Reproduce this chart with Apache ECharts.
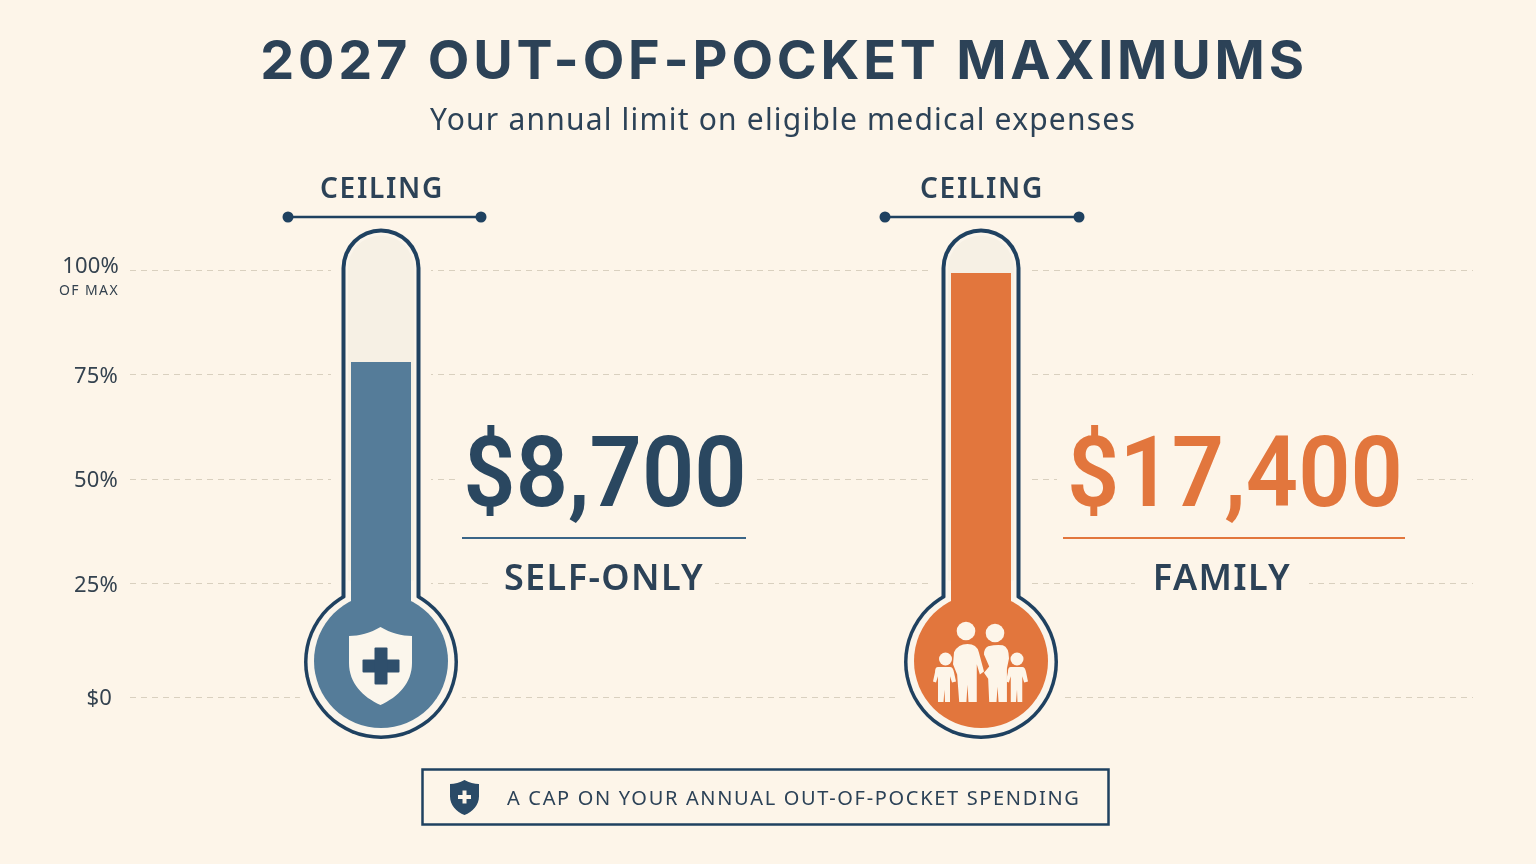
<!DOCTYPE html>
<html>
<head>
<meta charset="utf-8">
<style>html,body{margin:0;padding:0;background:#FDF5E9}#c{width:1536px;height:864px}</style>
<script src="https://cdn.jsdelivr.net/npm/echarts@6/dist/echarts.min.js"></script>
</head>
<body>
<div id="c"></div>
<script>
// ---- data ----
const titleText = '2027 OUT-OF-POCKET MAXIMUMS';
const subtitleText = 'Your annual limit on eligible medical expenses';
const footerText = 'A CAP ON YOUR ANNUAL OUT-OF-POCKET SPENDING';
const ceilingText = 'CEILING';
const maxNote = 'OF MAX';
const planNames = ['SELF-ONLY', 'FAMILY'];
const planAmounts = ['$8,700', '$17,400'];
const fillLevels = [78, 99.3];
const tickValues = [-2.15, 25, 50, 75, 100];
const tickLabels = ['$0', '25%', '50%', '75%', '100%'];

// ---- palette ----
const BG = '#FDF5E9', NAVY = '#1F4160', INK = '#2C4257', TICK = '#34424F', BLUE = '#557C99', ORANGE = '#E2763D';
const RING = '#FBF5EB', TUBE = '#F6F0E4', GRID = '#D9D0BF';
const planColors = [BLUE, ORANGE];
const amountColors = ['#2A4760', ORANGE];
const ruleColors = ['#3A6587', ORANGE];
const SANS = '"Noto Sans", sans-serif', HEAD = 'Inter, sans-serif', NUM = 'Roboto, sans-serif';

// letter spacing per font size (text stays one real string)
const tracking = {'54': 3.8, '30': 1.2, '28': 1.7, '36': 1.4, '20': 1.67, '22': 0.2, '14': 1.4};
const baseFill = CanvasRenderingContext2D.prototype.fillText;
CanvasRenderingContext2D.prototype.fillText = function (t, x, y, w) {
  const m = /(\d+(?:\.\d+)?)px/.exec(this.font);
  if ('letterSpacing' in this) this.letterSpacing = ((m && tracking[m[1]]) || 0) + 'px';
  return w === undefined ? baseFill.call(this, t, x, y) : baseFill.call(this, t, x, y, w);
};

const adult1 = 'M2,8 Q6,0 15,0 Q24,0 26,8 L31,27 L27,30 L24,20 L24,57 L16,57 L15,40 L14,57 L7,57 L5,30 L1,20 Z';
const adult2 = 'M4,2 Q12,0 18,1 Q24,3 24,14 L22,24 L22,57 L14,57 L13,42 L12,57 L5,57 L4,34 L0,28 L5,22 L0,10 Q0,4 4,2 Z';
const child = 'M5,0 L17,0 Q20,0 21,5 L23,14 L19,15 L17,9 L17,34 L12,34 L11.5,22 L10.5,34 L5,34 L5,9 L3,15 L0,14 L2,5 Q2,0 5,0 Z';
const shield = 'M32,0 C42,6 54,9 64,9 L64,36 C64,56 50,70 32,78 C14,70 0,56 0,36 L0,9 C10,9 22,6 32,0 Z';

function pathEl(d, x, y, w, h, fill) {
  return {type: 'path', shape: {pathData: d, x: x, y: y, width: w, height: h, layout: 'cover'}, style: {fill: fill}};
}
function rect(x, y, w, h, fill, r) {
  return {type: 'rect', shape: {x: x, y: y, width: w, height: h, r: r || 0}, style: {fill: fill}};
}
function circle(x, y, r, fill) {
  return {type: 'circle', shape: {cx: x, cy: y, r: r}, style: {fill: fill}};
}
function text(t, x, y, size, weight, fill, family, align) {
  return {type: 'text', x: x, y: y, style: {text: t, fontSize: size, fontWeight: weight, fill: fill,
    fontFamily: family || SANS, align: align || 'center', verticalAlign: 'middle'}};
}

function renderThermo(params, api) {
  const i = api.value(0);
  const top = api.coord([i, api.value(1)]);
  const base = api.coord([i, tickValues[0]]);
  const cx = top[0], fillY = top[1], by = base[1] - 36;
  const color = planColors[i];
  const tubeTop = by - 432.5;
  const k = [];
  // clear gridlines around glass
  k.push(rect(cx - 50, tubeTop - 12, 100, 380, BG));
  k.push(circle(cx, by, 89, BG));
  // glass
  k.push(circle(cx, by + 1, 77, NAVY));
  k.push(rect(cx - 39.5, tubeTop, 79, 400, NAVY, [39.5, 39.5, 0, 0]));
  k.push(circle(cx, by + 1, 73.5, RING));
  k.push(rect(cx - 35.5, tubeTop + 4, 71, 400, RING, [35.5, 35.5, 0, 0]));
  k.push(rect(cx - 33, tubeTop + 7, 66, 345, TUBE, [33, 33, 0, 0]));
  // mercury
  k.push(circle(cx, by, 67, color));
  k.push({type: 'rect', shape: {x: cx - 30, y: fillY, width: 60, height: by - 30 - fillY}, style: {fill: color}});
  // ceiling marker
  const left = i === 0 ? cx - 93 : cx - 96, right = i === 0 ? cx + 100 : cx + 98;
  k.push(text(ceilingText, cx + 1, tubeTop - 38, 28, 600, INK, SANS));
  k.push({type: 'line', shape: {x1: left, y1: by - 444, x2: right, y2: by - 444}, style: {stroke: NAVY, lineWidth: 2.5}});
  k.push(circle(left, by - 444, 5.5, NAVY));
  k.push(circle(right, by - 444, 5.5, NAVY));
  // icons
  if (i === 0) {
    k.push(pathEl(shield, cx - 32, by - 34, 63, 78, '#FBF6EC'));
    k.push(rect(cx - 18.5, by - 1.5, 37, 13, '#2F4F6C', 1));
    k.push(rect(cx - 6.5, by - 13.5, 13, 37, '#2F4F6C', 1));
  } else {
    const W = '#FDF5E9';
    k.push(circle(cx - 15, by - 30, 9.3, W));
    k.push(circle(cx + 14, by - 28, 9.3, W));
    k.push(circle(cx - 35.5, by - 2, 6.5, W));
    k.push(circle(cx + 36, by - 2, 6.5, W));
    k.push(pathEl(adult1, cx - 28, by - 17, 31, 58, W));
    k.push(pathEl(adult2, cx + 3, by - 16, 25, 57, W));
    k.push(pathEl(child, cx - 48, by + 6, 23, 35, W));
    k.push(pathEl(child, cx + 25, by + 6, 22, 35, W));
  }
  // value block
  const blockX = i === 0 ? cx + 224 : cx + 254;
  const ruleW = i === 0 ? 284 : 342;
  const nameX = i === 0 ? cx + 223 : cx + 241;
  const nameW = i === 0 ? 222 : 174;
  k.push(rect(blockX - (i === 0 ? 150 : 178), by - 232, i === 0 ? 300 : 356, 90, BG));
  k.push(rect(nameX - nameW / 2, by - 96, nameW, 40, BG));
  const amt = text(planAmounts[i], blockX, by - 180, 95, 600, amountColors[i], NUM);
  amt.scaleX = 0.965;
  amt.scaleY = 1.04;
  k.push(amt);
  k.push(rect(blockX - ruleW / 2 - 1, by - 124, ruleW, 2, ruleColors[i]));
  k.push(text(planNames[i], nameX, by - 81, 36, 600, INK, SANS));
  return {type: 'group', children: k};
}

function renderFooterIcon() {
  return {type: 'group', children: [
    pathEl(shield, 450, 780, 29, 35, '#2A4A67'),
    rect(458, 795, 13, 4, BG),
    rect(462.5, 790.5, 4, 13, BG)
  ]};
}

const chart = echarts.init(document.getElementById('c'), null, {renderer: 'canvas'});
chart.setOption({
  backgroundColor: BG,
  animation: false,
  title: [
    {text: titleText, left: 779, top: 58, textAlign: 'center', textVerticalAlign: 'middle',
     textStyle: {fontFamily: HEAD, fontSize: 54, fontWeight: 700, color: INK}},
    {text: subtitleText, left: 778, top: 116, textAlign: 'center', textVerticalAlign: 'middle',
     textStyle: {fontFamily: SANS, fontSize: 30, fontWeight: 400, color: INK}}
  ],
  grid: [
    {left: 130, right: 63, top: 270, height: 427},
    {left: 81, width: 1200, top: 270, height: 427}
  ],
  xAxis: [
    {gridIndex: 0, type: 'value', min: 0, max: 1, show: false},
    {gridIndex: 1, type: 'category', data: planNames, show: false}
  ],
  yAxis: [
    {gridIndex: 0, type: 'value', min: tickValues[0], max: 100,
     axisLine: {show: false}, axisTick: {show: false, customValues: tickValues},
     splitLine: {show: true, lineStyle: {color: GRID, type: [6, 5], width: 1}},
     axisLabel: {customValues: tickValues, margin: 11, align: 'right', color: TICK,
       fontFamily: SANS, fontSize: 22,
       formatter: function (v) {
         const s = tickLabels[tickValues.indexOf(v)];
         if (s === '100%') return '{a|' + s + '}';
         return (s === '$0' ? '{z|' : '{n|') + s + '}';
       },
       rich: {
         a: {fontFamily: SANS, fontSize: 22, color: TICK, padding: [0, 0, 6, 0]},
         n: {fontFamily: SANS, fontSize: 22, color: TICK, padding: [4, 1, 0, 0]},
         z: {fontFamily: SANS, fontSize: 22, color: TICK, padding: [4, 7, 0, 0]}
       }}},
    {gridIndex: 1, type: 'value', min: tickValues[0], max: 100, show: false, splitLine: {show: false}}
  ],
  series: [{
    type: 'custom', xAxisIndex: 1, yAxisIndex: 1, clip: false, z: 5,
    encode: {x: 0, y: 1},
    data: fillLevels.map((v, i) => [i, v]),
    renderItem: renderThermo
  }, {
    type: 'custom', xAxisIndex: 1, yAxisIndex: 1, clip: false, z: 6, silent: true,
    encode: {x: 0, y: 1},
    data: [[0, 0]],
    renderItem: renderFooterIcon
  }],
  graphic: [
    {type: 'rect', shape: {x: 422.5, y: 769.5, width: 686, height: 55}, style: {fill: 'none', stroke: NAVY, lineWidth: 2.5}},
    {type: 'text', x: 507, y: 799, style: {text: footerText, fontFamily: SANS, fontSize: 20, fill: INK, align: 'left', verticalAlign: 'middle'}},
    {type: 'text', x: 119, y: 291, style: {text: maxNote, fontFamily: SANS, fontSize: 14, fill: TICK, align: 'right', verticalAlign: 'middle'}}
  ]
});
</script>
</body>
</html>
